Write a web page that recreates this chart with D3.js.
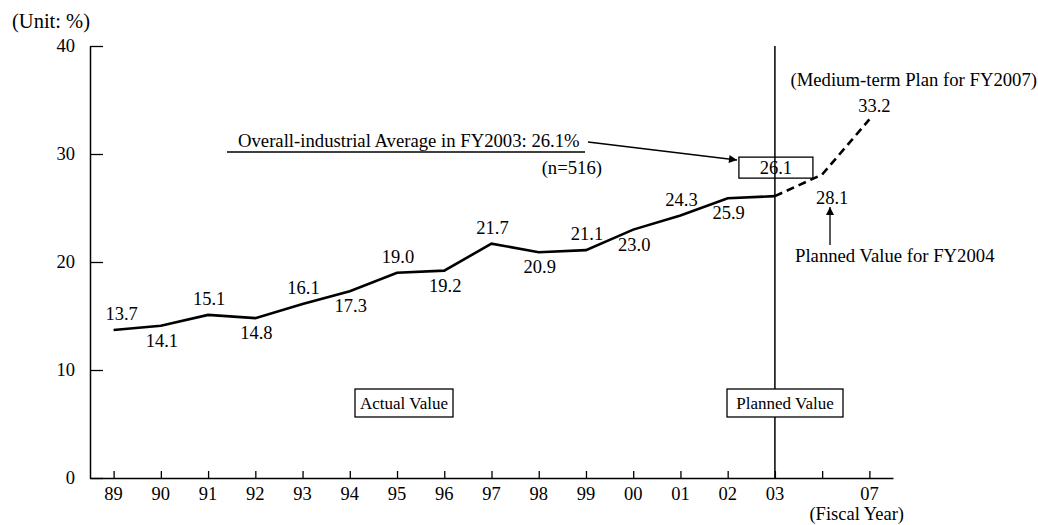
<!DOCTYPE html>
<html>
<head>
<meta charset="utf-8">
<script src="https://cdn.jsdelivr.net/npm/d3@7"></script>
<style>
  body { margin: 0; background: #fff; }
  svg text { font-family: "Liberation Serif", "Times New Roman", serif; fill: #000; }
</style>
</head>
<body>
<svg id="chart"></svg>
<script>
// tick labels on the fiscal-year axis ("04" has a tick but no label)
const years = ["89", "90", "91", "92", "93", "94", "95", "96", "97", "98", "99", "00", "01", "02", "03", "04", "07"];
const yearLabels = ["89", "90", "91", "92", "93", "94", "95", "96", "97", "98", "99", "00", "01", "02", "03", "", "07"];
const yTicks = [0, 10, 20, 30, 40];

// actual values FY1989-FY2003
const actualYears = ["89", "90", "91", "92", "93", "94", "95", "96", "97", "98", "99", "00", "01", "02", "03"];
const actualValues = [13.7, 14.1, 15.1, 14.8, 16.1, 17.3, 19.0, 19.2, 21.7, 20.9, 21.1, 23.0, 24.3, 25.9, 26.1];

// planned values
const plannedYears = ["03", "04", "07"];
const plannedValues = [26.1, 28.1, 33.2];

const W = 1038, H = 525;
const margin = { top: 46, right: 145, bottom: 47, left: 90 };
const width = W - margin.left - margin.right;
const height = H - margin.top - margin.bottom;

const svg = d3.select('#chart').attr('width', W).attr('height', H);
const chart = svg.append('g').attr('transform', `translate(${margin.left},${margin.top})`);

const xScale = d3.scalePoint().domain(years).range([0, width]).padding(0.5);
const yScale = d3.scaleLinear().domain([0, 40]).range([height, 0]);

// axes, ticks pointing inward
const yAxis = d3.axisRight(yScale).tickValues(yTicks).tickSize(13).tickSizeOuter(0).tickFormat('');
const xAxis = d3.axisTop(xScale).tickSize(7).tickSizeOuter(0).tickFormat('');

const yAxisG = chart.append('g').call(yAxis);
const xAxisG = chart.append('g').attr('transform', `translate(0,${height})`).call(xAxis);
[yAxisG, xAxisG].forEach(g => {
    g.select('.domain').attr('stroke', '#000').attr('stroke-width', 1.5);
    g.selectAll('.tick line').attr('stroke', '#000').attr('stroke-width', 1.3);
});

// y tick labels
chart.selectAll('.ylab')
    .data(yTicks)
    .enter()
    .append('text')
    .attr('class', 'ylab')
    .attr('x', -15)
    .attr('y', d => yScale(d))
    .attr('dy', '0.35em')
    .attr('text-anchor', 'end')
    .attr('font-size', '18.5px')
    .text(d => d);

// x tick labels
chart.selectAll('.xlab')
    .data(years)
    .enter()
    .append('text')
    .attr('class', 'xlab')
    .attr('x', d => xScale(d))
    .attr('y', height + 22)
    .attr('text-anchor', 'middle')
    .attr('font-size', '18.5px')
    .text((d, i) => yearLabels[i]);

svg.append('text').attr('x', 12).attr('y', 28).attr('font-size', '20.5px').text('(Unit: %)');
svg.append('text').attr('x', 904).attr('y', 520).attr('text-anchor', 'end').attr('font-size', '18.5px').text('(Fiscal Year)');

// FY2003 divider
chart.append('line')
    .attr('x1', xScale('03')).attr('x2', xScale('03'))
    .attr('y1', yScale(40)).attr('y2', height)
    .attr('stroke', '#000').attr('stroke-width', 1.5);

const actual = actualYears.map((y, i) => ({ year: y, value: actualValues[i] }));
const planned = plannedYears.map((y, i) => ({ year: y, value: plannedValues[i] }));

const line = d3.line()
    .x(d => xScale(d.year))
    .y(d => yScale(d.value));

chart.append('path')
    .datum(actual)
    .attr('d', line)
    .attr('fill', 'none')
    .attr('stroke', '#000')
    .attr('stroke-width', 2.6);

chart.append('path')
    .datum(planned)
    .attr('d', line)
    .attr('fill', 'none')
    .attr('stroke', '#000')
    .attr('stroke-width', 2.6)
    .attr('stroke-dasharray', '8,5');

// value labels, alternating above / below (last one sits in a box)
chart.selectAll('.vlab')
    .data(actual.slice(0, -1))
    .enter()
    .append('text')
    .attr('class', 'vlab')
    .attr('x', (d, i) => xScale(d.year) + (i === 0 ? 8 : 1))
    .attr('y', (d, i) => yScale(d.value) + (i % 2 === 0 ? -10 : 21))
    .attr('text-anchor', 'middle')
    .attr('font-size', '18.5px')
    .text(d => d.value.toFixed(1));

// boxed FY2003 value
const last = actual[actual.length - 1];
const bx = xScale(last.year);
chart.append('rect')
    .attr('x', bx - 36).attr('y', yScale(last.value) - 39)
    .attr('width', 74).attr('height', 21)
    .attr('fill', '#fff').attr('stroke', '#000').attr('stroke-width', 1.3);
chart.append('line')
    .attr('x1', bx).attr('x2', bx)
    .attr('y1', yScale(last.value) - 39).attr('y2', yScale(last.value) - 18)
    .attr('stroke', '#000').attr('stroke-width', 1.5);
chart.append('text')
    .attr('x', bx + 1).attr('y', yScale(last.value) - 22)
    .attr('text-anchor', 'middle').attr('font-size', '18.5px')
    .text(last.value.toFixed(1));

// planned labels
const p04 = planned[1], p07 = planned[2];
chart.append('text')
    .attr('x', xScale(p04.year) + 10).attr('y', yScale(p04.value) + 29)
    .attr('text-anchor', 'middle').attr('font-size', '18.5px')
    .text(p04.value.toFixed(1));
chart.append('text')
    .attr('x', xScale(p07.year) + 5).attr('y', yScale(p07.value) - 7)
    .attr('text-anchor', 'middle').attr('font-size', '18.5px')
    .text(p07.value.toFixed(1));

// arrow markers
svg.append('defs').append('marker')
    .attr('id', 'arrow')
    .attr('viewBox', '0 0 10 10')
    .attr('refX', 10).attr('refY', 5)
    .attr('markerWidth', 11).attr('markerHeight', 8)
    .attr('markerUnits', 'userSpaceOnUse')
    .attr('orient', 'auto')
    .append('path')
    .attr('d', 'M0,0 L10,5 L0,10 z')
    .attr('fill', '#000');

// overall-industrial average annotation
svg.append('text').attr('x', 238).attr('y', 147).attr('font-size', '18.7px')
    .text('Overall-industrial Average in FY2003: 26.1%');
svg.append('line').attr('x1', 227).attr('x2', 585).attr('y1', 152).attr('y2', 152)
    .attr('stroke', '#000').attr('stroke-width', 1.3);
svg.append('text').attr('x', 602).attr('y', 174).attr('text-anchor', 'end').attr('font-size', '18.7px')
    .text('(n=516)');
svg.append('line').attr('x1', 588).attr('y1', 142).attr('x2', 737).attr('y2', 160)
    .attr('stroke', '#000').attr('stroke-width', 1.3).attr('marker-end', 'url(#arrow)');

// planned value for FY2004 annotation
svg.append('line').attr('x1', 830).attr('y1', 245).attr('x2', 830).attr('y2', 207)
    .attr('stroke', '#000').attr('stroke-width', 1.3).attr('marker-end', 'url(#arrow)');
svg.append('text').attr('x', 795).attr('y', 262).attr('font-size', '18.7px')
    .text('Planned Value for FY2004');

svg.append('text').attr('x', 1037).attr('y', 86).attr('text-anchor', 'end').attr('font-size', '18.7px')
    .text('(Medium-term Plan for FY2007)');

// region boxes
function boxLabel(x, y, w, h, txt) {
    svg.append('rect').attr('x', x).attr('y', y).attr('width', w).attr('height', h)
        .attr('fill', '#fff').attr('stroke', '#000').attr('stroke-width', 1.3);
    svg.append('text').attr('x', x + w / 2).attr('y', y + h / 2).attr('dy', '0.35em')
        .attr('text-anchor', 'middle').attr('font-size', '17px').text(txt);
}
boxLabel(355, 389, 98, 28, 'Actual Value');
boxLabel(727, 389, 116, 28, 'Planned Value');
</script>
</body>
</html>
